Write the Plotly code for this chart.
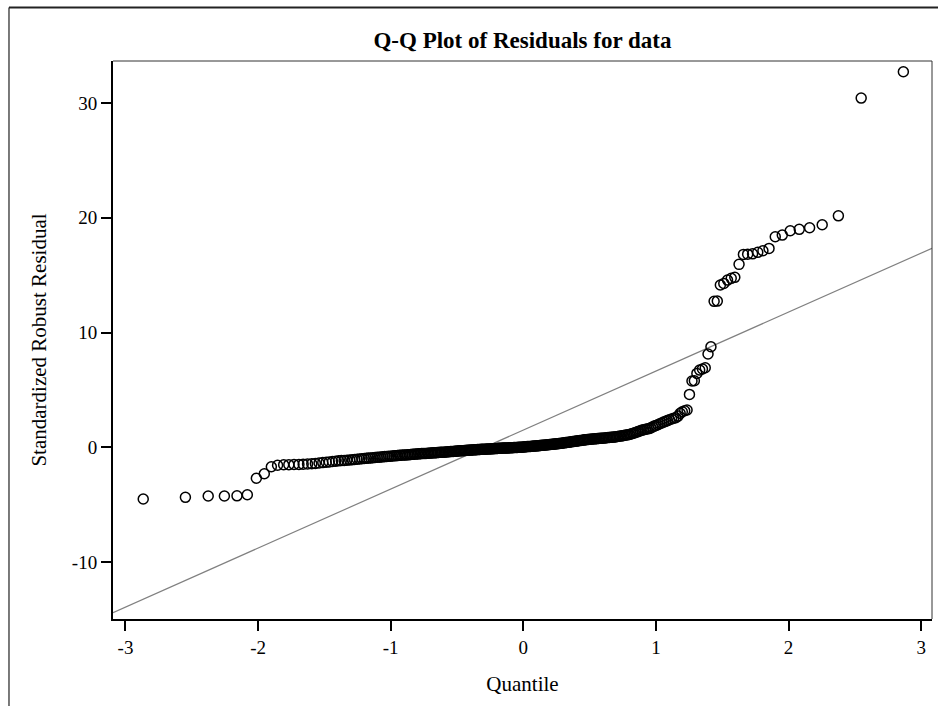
import plotly.graph_objects as go

# Theoretical normal quantiles (sorted), one per observation
quantile = [
    -2.866, -2.548, -2.376, -2.254, -2.159, -2.081, -2.013, -1.953, -1.900, -1.853,
    -1.807, -1.768, -1.729, -1.692, -1.660, -1.627, -1.595, -1.568, -1.540, -1.512,
    -1.486, -1.463, -1.439, -1.415, -1.393, -1.372, -1.351, -1.330, -1.309, -1.290,
    -1.272, -1.253, -1.235, -1.217, -1.199, -1.183, -1.167, -1.150, -1.134, -1.118,
    -1.102, -1.087, -1.073, -1.058, -1.044, -1.029, -1.015, -1.000, -0.987, -0.974,
    -0.961, -0.948, -0.935, -0.922, -0.909, -0.896, -0.884, -0.872, -0.860, -0.848,
    -0.836, -0.824, -0.812, -0.800, -0.789, -0.778, -0.767, -0.756, -0.745, -0.734,
    -0.722, -0.711, -0.700, -0.690, -0.680, -0.670, -0.659, -0.649, -0.639, -0.628,
    -0.618, -0.608, -0.597, -0.588, -0.578, -0.568, -0.558, -0.549, -0.539, -0.529,
    -0.519, -0.510, -0.500, -0.491, -0.482, -0.472, -0.463, -0.454, -0.445, -0.435,
    -0.426, -0.417, -0.408, -0.399, -0.390, -0.381, -0.372, -0.363, -0.355, -0.346,
    -0.337, -0.328, -0.319, -0.310, -0.301, -0.292, -0.284, -0.275, -0.267, -0.258,
    -0.249, -0.241, -0.232, -0.224, -0.215, -0.206, -0.197, -0.189, -0.181, -0.172,
    -0.164, -0.155, -0.147, -0.138, -0.130, -0.122, -0.113, -0.105, -0.096, -0.088,
    -0.080, -0.071, -0.063, -0.054, -0.046, -0.038, -0.029, -0.021, -0.013, -0.004,
    0.004, 0.013, 0.021, 0.029, 0.038, 0.046, 0.054, 0.063, 0.071, 0.080,
    0.088, 0.096, 0.105, 0.113, 0.122, 0.130, 0.138, 0.147, 0.155, 0.164,
    0.172, 0.181, 0.189, 0.197, 0.206, 0.215, 0.224, 0.232, 0.241, 0.249,
    0.258, 0.267, 0.275, 0.284, 0.292, 0.301, 0.310, 0.319, 0.328, 0.337,
    0.346, 0.355, 0.363, 0.372, 0.381, 0.390, 0.399, 0.408, 0.417, 0.426,
    0.435, 0.445, 0.454, 0.463, 0.472, 0.482, 0.491, 0.500, 0.510, 0.519,
    0.529, 0.539, 0.549, 0.558, 0.568, 0.578, 0.588, 0.597, 0.608, 0.618,
    0.628, 0.639, 0.649, 0.659, 0.670, 0.680, 0.690, 0.700, 0.711, 0.722,
    0.734, 0.745, 0.756, 0.767, 0.778, 0.789, 0.800, 0.812, 0.824, 0.836,
    0.848, 0.860, 0.872, 0.884, 0.896, 0.909, 0.922, 0.935, 0.948, 0.961,
    0.974, 0.987, 1.000, 1.015, 1.029, 1.044, 1.058, 1.073, 1.087, 1.102,
    1.118, 1.134, 1.150, 1.167, 1.183, 1.199, 1.217, 1.235, 1.253, 1.272,
    1.290, 1.309, 1.330, 1.351, 1.372, 1.393, 1.415, 1.439, 1.463, 1.486,
    1.512, 1.540, 1.568, 1.595, 1.627, 1.660, 1.692, 1.729, 1.768, 1.807,
    1.853, 1.900, 1.953, 2.013, 2.081, 2.159, 2.254, 2.376, 2.548, 2.866,
]

# Sorted standardized robust residuals
residual = [
    -4.50, -4.36, -4.24, -4.24, -4.23, -4.13, -2.70, -2.30, -1.69, -1.56,
    -1.52, -1.51, -1.50, -1.49, -1.47, -1.45, -1.43, -1.40, -1.37, -1.33,
    -1.30, -1.27, -1.24, -1.21, -1.18, -1.16, -1.14, -1.12, -1.10, -1.08,
    -1.06, -1.04, -1.02, -1.00, -0.98, -0.96, -0.94, -0.93, -0.91, -0.89,
    -0.87, -0.86, -0.84, -0.83, -0.81, -0.80, -0.78, -0.77, -0.76, -0.74,
    -0.73, -0.72, -0.70, -0.69, -0.68, -0.67, -0.66, -0.65, -0.64, -0.62,
    -0.61, -0.60, -0.59, -0.58, -0.57, -0.56, -0.55, -0.54, -0.54, -0.53,
    -0.52, -0.51, -0.50, -0.49, -0.48, -0.48, -0.47, -0.46, -0.45, -0.44,
    -0.43, -0.42, -0.42, -0.41, -0.40, -0.39, -0.38, -0.37, -0.36, -0.36,
    -0.35, -0.34, -0.33, -0.32, -0.31, -0.30, -0.30, -0.29, -0.28, -0.27,
    -0.26, -0.25, -0.25, -0.24, -0.23, -0.23, -0.22, -0.21, -0.21, -0.20,
    -0.20, -0.19, -0.18, -0.18, -0.17, -0.16, -0.16, -0.15, -0.15, -0.14,
    -0.14, -0.13, -0.12, -0.12, -0.11, -0.11, -0.10, -0.09, -0.09, -0.08,
    -0.08, -0.07, -0.07, -0.06, -0.06, -0.05, -0.05, -0.04, -0.04, -0.03,
    -0.03, -0.02, -0.02, -0.01, -0.01, 0.00, 0.00, 0.01, 0.01, 0.02,
    0.03, 0.04, 0.05, 0.06, 0.07, 0.08, 0.08, 0.09, 0.10, 0.11,
    0.12, 0.12, 0.13, 0.14, 0.15, 0.16, 0.17, 0.18, 0.19, 0.20,
    0.21, 0.22, 0.23, 0.24, 0.25, 0.26, 0.27, 0.28, 0.29, 0.30,
    0.31, 0.33, 0.34, 0.35, 0.36, 0.38, 0.39, 0.41, 0.42, 0.44,
    0.45, 0.47, 0.48, 0.50, 0.51, 0.53, 0.54, 0.56, 0.57, 0.59,
    0.60, 0.62, 0.63, 0.65, 0.66, 0.68, 0.69, 0.70, 0.71, 0.72,
    0.73, 0.74, 0.75, 0.76, 0.77, 0.78, 0.79, 0.80, 0.81, 0.82,
    0.83, 0.85, 0.86, 0.87, 0.88, 0.89, 0.90, 0.92, 0.94, 0.96,
    0.98, 1.00, 1.03, 1.06, 1.08, 1.10, 1.12, 1.17, 1.21, 1.25,
    1.30, 1.35, 1.40, 1.45, 1.50, 1.54, 1.57, 1.60, 1.63, 1.68,
    1.78, 1.85, 1.90, 1.97, 2.05, 2.12, 2.20, 2.26, 2.33, 2.41,
    2.47, 2.53, 2.58, 2.72, 2.96, 3.10, 3.19, 3.25, 4.61, 5.78,
    5.80, 6.44, 6.73, 6.82, 6.93, 8.13, 8.76, 12.72, 12.74, 14.14,
    14.28, 14.57, 14.72, 14.81, 15.94, 16.81, 16.83, 16.86, 16.99, 17.13,
    17.33, 18.35, 18.49, 18.87, 18.99, 19.13, 19.39, 20.17, 30.43, 32.72,
]

assert len(quantile) == len(residual)

# Reference line: residual = intercept + slope * quantile
ref_intercept = 1.50
ref_slope = 5.14

x_ticks = [-3, -2, -1, 0, 1, 2, 3]
y_ticks = [-10, 0, 10, 20, 30]
x_range = [-3.094, 3.082]
y_range = [-14.96, 33.66]

FONT = "Liberation Serif, Times New Roman, serif"

fig = go.Figure()

ref_x = x_range
ref_y = [ref_intercept + ref_slope * v for v in ref_x]
fig.add_trace(go.Scatter(
    x=ref_x, y=ref_y, mode="lines",
    line=dict(color="#808080", width=1.2),
    hoverinfo="skip", showlegend=False,
))

fig.add_trace(go.Scatter(
    x=quantile, y=residual, mode="markers",
    marker=dict(symbol="circle-open", size=10, color="black",
                line=dict(color="black", width=1.5)),
    showlegend=False,
))

axis_common = dict(
    showgrid=False, zeroline=False,
    showline=True, linecolor="black", linewidth=2,
    ticks="outside", ticklen=10, tickwidth=1.5, tickcolor="black",
    tickfont=dict(family=FONT, size=19, color="black"),
)

fig.update_xaxes(
    range=x_range, tickmode="array", tickvals=x_ticks,
    ticktext=[str(v) for v in x_ticks],
    title=dict(text="Quantile", font=dict(family=FONT, size=21, color="black"),
               standoff=20),
    **axis_common,
)
fig.update_yaxes(
    range=y_range, tickmode="array", tickvals=y_ticks,
    ticktext=[str(v) for v in y_ticks],
    title=dict(text="Standardized Robust Residual",
               font=dict(family=FONT, size=21, color="black"), standoff=20),
    **axis_common,
)

shapes = [
    # thin top and right edges of the plotting frame
    dict(type="line", xref="paper", yref="paper", x0=0, x1=1, y0=1, y1=1,
         line=dict(color="#333333", width=1)),
    dict(type="line", xref="paper", yref="paper", x0=1, x1=1, y0=0, y1=1,
         line=dict(color="#333333", width=1)),
    # outer graph border (top and left)
    dict(type="line", xref="paper", yref="paper", x0=-0.127, x1=1.01,
         y0=1.0959, y1=1.0959, line=dict(color="#222222", width=2)),
    dict(type="line", xref="paper", yref="paper", x0=-0.127, x1=-0.127,
         y0=1.0959, y1=-0.2, line=dict(color="#222222", width=1.2)),
]

fig.update_layout(
    width=938, height=706,
    margin=dict(l=113, r=6, t=61, b=87),
    paper_bgcolor="white", plot_bgcolor="white",
    font=dict(family=FONT, color="black"),
    title=dict(text="<b>Q-Q Plot of Residuals for data</b>",
               font=dict(family=FONT, size=23, color="black"),
               x=0.557, xanchor="center", xref="container",
               y=1 - 40 / 706, yanchor="middle", yref="container"),
    shapes=shapes,
)

fig.write_html("out.html")
